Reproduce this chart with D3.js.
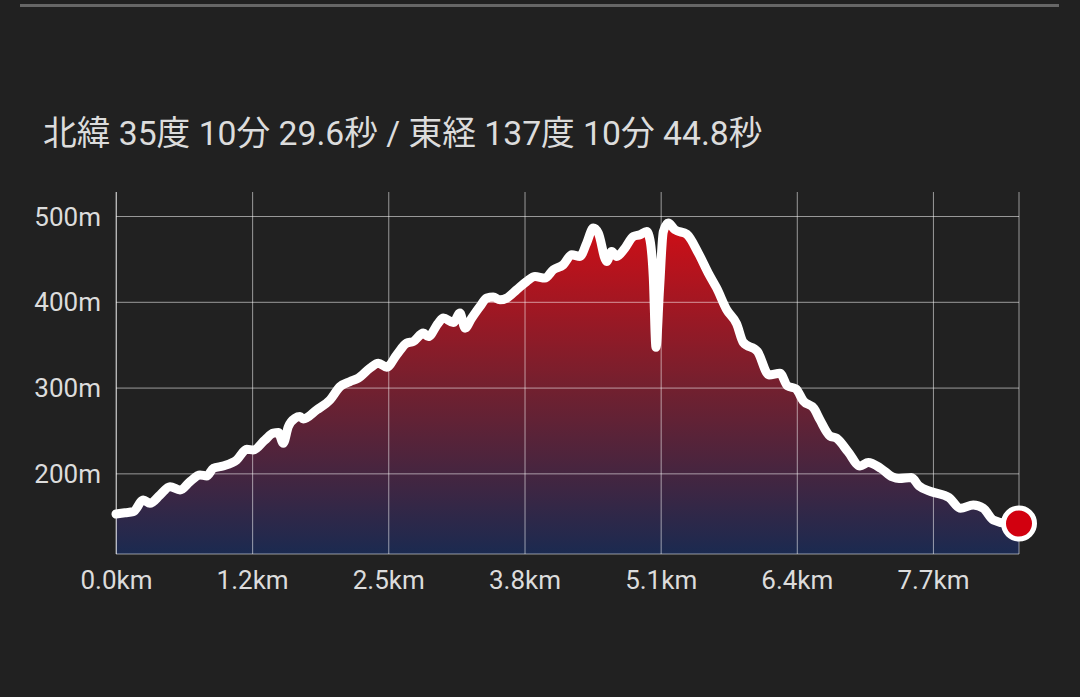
<!DOCTYPE html>
<html>
<head>
<meta charset="utf-8">
<script src="https://cdn.jsdelivr.net/npm/d3@7"></script>
<style>
  html, body { margin: 0; padding: 0; background: #212121; }
  svg { display: block; }
</style>
</head>
<body>
<svg id="chart" width="1080" height="697"></svg>
<script>
// ---- data ----
const titleText = "北緯 35度 10分 29.6秒 / 東経 137度 10分 44.8秒";
const distanceKm = [
  0.000, 0.085, 0.163, 0.258, 0.321, 0.416, 0.510, 0.605, 0.699, 0.793,
  0.857, 0.919, 1.011, 1.140, 1.235, 1.297, 1.407, 1.486, 1.533, 1.580,
  1.628, 1.691, 1.738, 1.769, 1.896, 2.021, 2.116, 2.210, 2.289, 2.399,
  2.478, 2.557, 2.651, 2.746, 2.808, 2.903, 2.950, 3.044, 3.092, 3.186,
  3.249, 3.297, 3.360, 3.438, 3.502, 3.564, 3.627, 3.691, 3.785, 3.879,
  3.958, 4.052, 4.131, 4.225, 4.305, 4.383, 4.446, 4.509, 4.556, 4.635,
  4.682, 4.730, 4.808, 4.887, 4.950, 5.013, 5.044, 5.075, 5.101, 5.134,
  5.170, 5.216, 5.280, 5.391, 5.501, 5.595, 5.674, 5.769, 5.863, 5.925,
  6.060, 6.168, 6.272, 6.343, 6.423, 6.492, 6.593, 6.650, 6.744, 6.808,
  6.914, 7.028, 7.106, 7.226, 7.335, 7.396, 7.514, 7.585, 7.703, 7.868,
  7.977, 8.098, 8.193, 8.287, 8.413, 8.530
];
const elevationM = [
  152.6, 154.1, 155.3, 169.0, 165.1, 174.8, 184.5, 180.6, 190.3, 198.1,
  197.0, 205.9, 208.6, 215.6, 228.1, 227.3, 239.0, 246.8, 247.5, 235.1,
  254.5, 264.3, 266.2, 263.5, 274.0, 285.6, 301.2, 307.0, 311.0, 322.6,
  328.5, 323.8, 338.1, 351.8, 353.7, 363.5, 359.5, 375.1, 381.0, 375.8,
  386.8, 369.3, 381.0, 394.5, 404.3, 405.5, 402.3, 404.3, 414.0, 423.7,
  429.5, 427.7, 437.3, 443.2, 454.8, 452.9, 468.5, 486.0, 480.2, 447.0,
  458.7, 452.9, 462.7, 476.2, 478.2, 482.0, 472.3, 429.5, 346.9, 414.0,
  481.7, 491.8, 484.0, 478.8, 456.8, 433.5, 416.0, 390.7, 374.3, 352.7,
  342.0, 314.8, 316.8, 302.0, 298.5, 284.5, 275.7, 262.3, 243.6, 240.9,
  225.3, 208.6, 212.7, 205.7, 195.8, 194.0, 195.2, 185.3, 178.6, 171.9,
  159.3, 163.1, 159.3, 145.6, 141.8, 141.5
];
const xTickValues = [0, 1.286, 2.572, 3.859, 5.145, 6.431, 7.717];
const xTickLabels = ["0.0km", "1.2km", "2.5km", "3.8km", "5.1km", "6.4km", "7.7km"];
const yTickValues = [200, 300, 400, 500];
const yTickLabels = ["200m", "300m", "400m", "500m"];
const xDomain = [0, 8.53];
const yDomain = [106, 528];

// ---- layout ----
const plot = { left: 116, right: 1019, top: 192, bottom: 554 };
const font = "Roboto, 'Noto Sans CJK JP', sans-serif";

const svg = d3.select("#chart");
const data = distanceKm.map((d, i) => ({ x: d, y: elevationM[i] }));

const x = d3.scaleLinear().domain(xDomain).range([plot.left, plot.right]);
const y = d3.scaleLinear().domain(yDomain).range([plot.bottom, plot.top]);

// top divider
svg.append("rect").attr("x", 20).attr("y", 4).attr("width", 1039).attr("height", 3).attr("fill", "#666666");

// title
svg.append("text")
  .attr("x", 43).attr("y", 145)
  .attr("fill", "#dcdcdc")
  .style("font-family", font)
  .style("font-size", "33.7px")
  .text(titleText);

// gradient
const defs = svg.append("defs");
const grad = defs.append("linearGradient")
  .attr("id", "elevGrad")
  .attr("gradientUnits", "userSpaceOnUse")
  .attr("x1", 0).attr("x2", 0)
  .attr("y1", y(d3.max(elevationM))).attr("y2", plot.bottom);
grad.append("stop").attr("offset", "0%").attr("stop-color", "#d00e16");
grad.append("stop").attr("offset", "50%").attr("stop-color", "#72202f");
grad.append("stop").attr("offset", "100%").attr("stop-color", "#1b2a50");

const curve = d3.curveMonotoneX;

// area
svg.append("path")
  .datum(data)
  .attr("fill", "url(#elevGrad)")
  .attr("d", d3.area().x(d => x(d.x)).y0(plot.bottom).y1(d => y(d.y)).curve(curve));

// grid
const gridColor = "rgba(255,255,255,0.55)";
const xAxis = d3.axisBottom(x)
  .tickValues(xTickValues)
  .tickSize(-(plot.bottom - plot.top))
  .tickFormat((d, i) => xTickLabels[i]);
const gx = svg.append("g").attr("transform", `translate(0,${plot.bottom})`).call(xAxis);
gx.select(".domain").remove();
gx.selectAll(".tick line").attr("stroke", gridColor).attr("stroke-width", 1);
gx.selectAll(".tick text")
  .attr("fill", "#dcdcdc")
  .attr("y", 35)
  .attr("dy", 0)
  .style("font-family", font)
  .style("font-size", "26px");

const yAxis = d3.axisLeft(y)
  .tickValues(yTickValues)
  .tickSize(-(plot.right - plot.left))
  .tickFormat((d, i) => yTickLabels[i]);
const gy = svg.append("g").attr("transform", `translate(${plot.left},0)`).call(yAxis);
gy.select(".domain").remove();
gy.selectAll(".tick line").attr("stroke", gridColor).attr("stroke-width", 1);
gy.selectAll(".tick text")
  .attr("fill", "#dcdcdc")
  .attr("x", -15)
  .attr("dy", "0.35em")
  .style("font-family", font)
  .style("font-size", "26px");

// frame: left, bottom, right
svg.append("line").attr("x1", plot.left).attr("x2", plot.left).attr("y1", plot.top).attr("y2", plot.bottom)
  .attr("stroke", gridColor).attr("stroke-width", 1);
svg.append("line").attr("x1", plot.right).attr("x2", plot.right).attr("y1", plot.top).attr("y2", plot.bottom)
  .attr("stroke", gridColor).attr("stroke-width", 1);
svg.append("line").attr("x1", plot.left).attr("x2", plot.right).attr("y1", plot.bottom).attr("y2", plot.bottom)
  .attr("stroke", gridColor).attr("stroke-width", 1);

// line
svg.append("path")
  .datum(data)
  .attr("fill", "none")
  .attr("stroke", "#ffffff")
  .attr("stroke-width", 9)
  .attr("stroke-linejoin", "round")
  .attr("stroke-linecap", "round")
  .attr("d", d3.line().x(d => x(d.x)).y(d => y(d.y)).curve(curve));

// end marker
const last = data[data.length - 1];
svg.append("circle")
  .attr("cx", x(last.x)).attr("cy", y(last.y))
  .attr("r", 15.5)
  .attr("fill", "#d2000f")
  .attr("stroke", "#ffffff")
  .attr("stroke-width", 5);
</script>
</body>
</html>
